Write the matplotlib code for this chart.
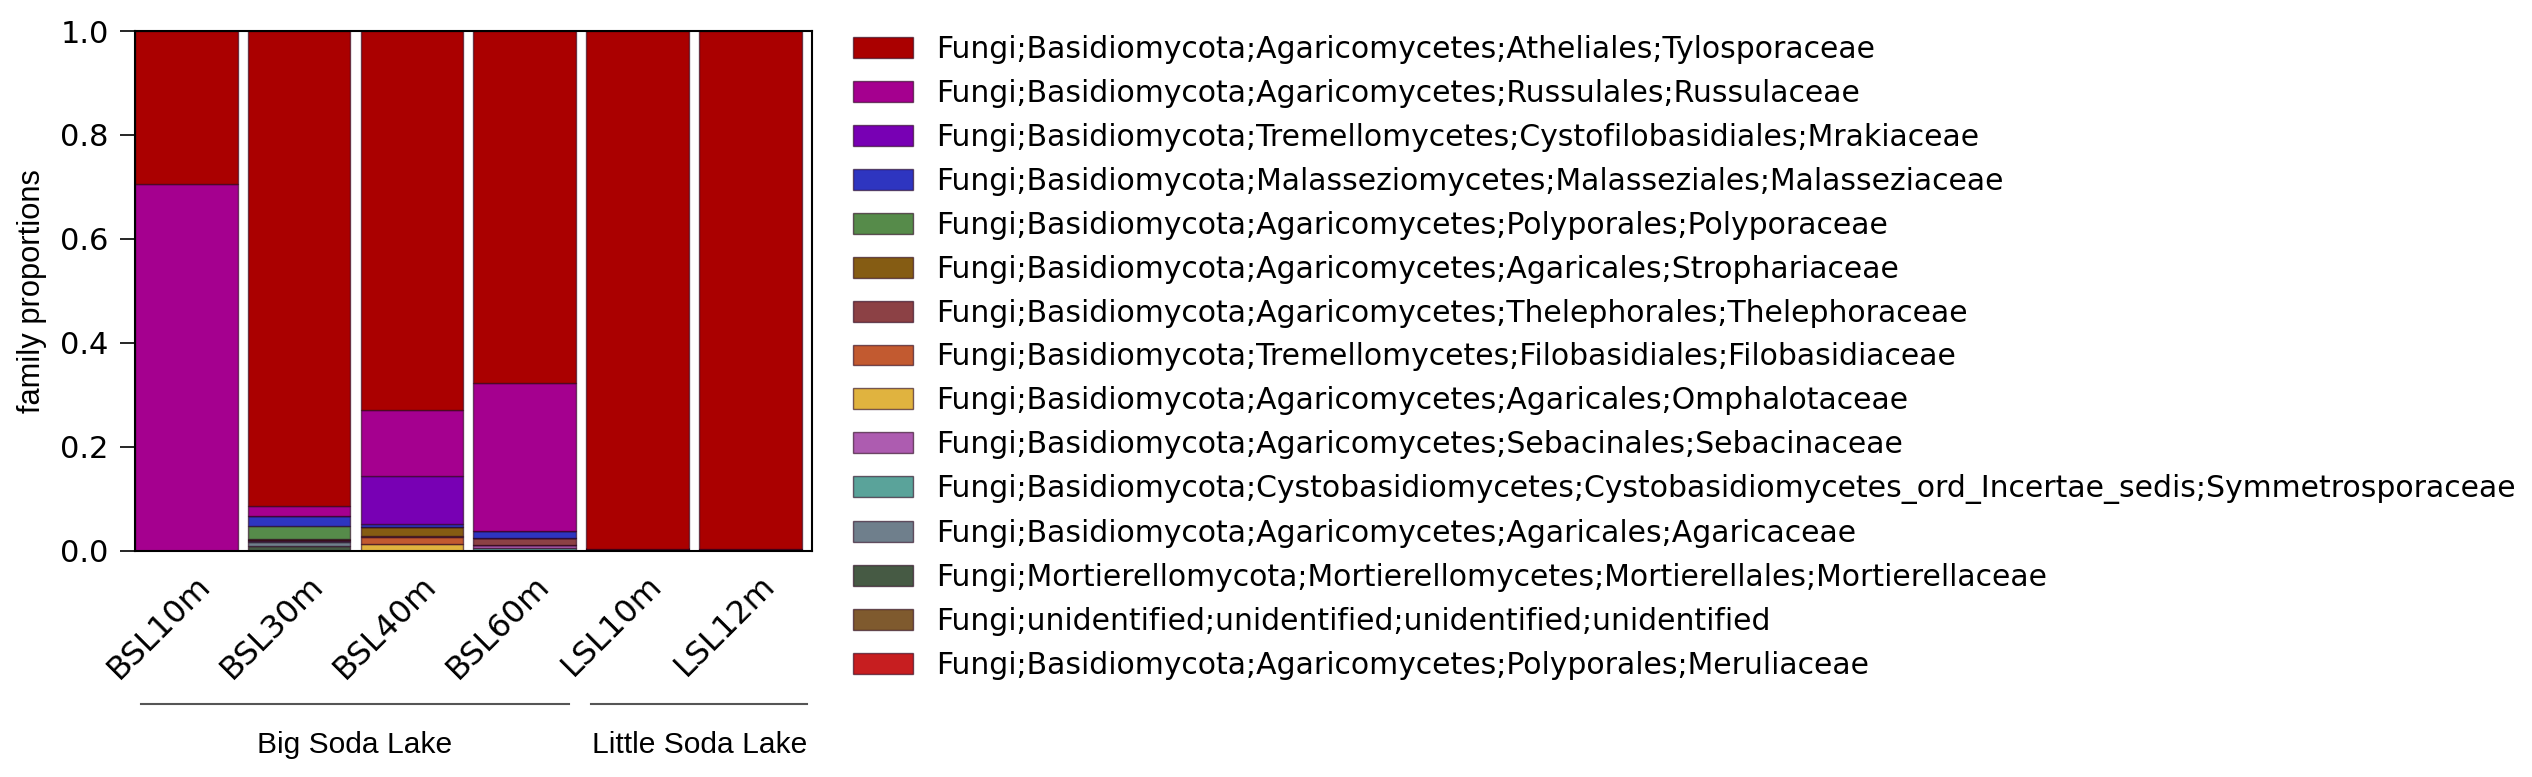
import matplotlib
matplotlib.use("Agg")
import matplotlib.pyplot as plt
import matplotlib.transforms as mtransforms
import numpy as np

samples = ["BSL10m", "BSL30m", "BSL40m", "BSL60m", "LSL10m", "LSL12m"]

# legend order (top of stack first)
families = [
    "Fungi;Basidiomycota;Agaricomycetes;Atheliales;Tylosporaceae",
    "Fungi;Basidiomycota;Agaricomycetes;Russulales;Russulaceae",
    "Fungi;Basidiomycota;Tremellomycetes;Cystofilobasidiales;Mrakiaceae",
    "Fungi;Basidiomycota;Malasseziomycetes;Malasseziales;Malasseziaceae",
    "Fungi;Basidiomycota;Agaricomycetes;Polyporales;Polyporaceae",
    "Fungi;Basidiomycota;Agaricomycetes;Agaricales;Strophariaceae",
    "Fungi;Basidiomycota;Agaricomycetes;Thelephorales;Thelephoraceae",
    "Fungi;Basidiomycota;Tremellomycetes;Filobasidiales;Filobasidiaceae",
    "Fungi;Basidiomycota;Agaricomycetes;Agaricales;Omphalotaceae",
    "Fungi;Basidiomycota;Agaricomycetes;Sebacinales;Sebacinaceae",
    "Fungi;Basidiomycota;Cystobasidiomycetes;Cystobasidiomycetes_ord_Incertae_sedis;Symmetrosporaceae",
    "Fungi;Basidiomycota;Agaricomycetes;Agaricales;Agaricaceae",
    "Fungi;Mortierellomycota;Mortierellomycetes;Mortierellales;Mortierellaceae",
    "Fungi;unidentified;unidentified;unidentified;unidentified",
    "Fungi;Basidiomycota;Agaricomycetes;Polyporales;Meruliaceae",
]

colors = ["#aa0000", "#a5008f", "#7800b4", "#2e35c0", "#568b4a",
          "#855c13", "#8c4145", "#c25a30", "#e0b33f", "#ad5cb0",
          "#5aa39a", "#6f7f8c", "#465a44", "#7f5a2e", "#c71e20"]

# proportions per sample, same order as families
tylosporaceae     = [0.295, 0.9135, 0.728, 0.677, 0.997, 0.997]
russulaceae       = [0.705, 0.019, 0.128, 0.284, 0.0, 0.0]
mrakiaceae        = [0.0, 0.0, 0.092, 0.0, 0.0, 0.002]
malasseziaceae    = [0.0, 0.020, 0.006, 0.015, 0.0, 0.0]
polyporaceae      = [0.0, 0.024, 0.0, 0.0, 0.0, 0.0]
strophariaceae    = [0.0, 0.002, 0.017, 0.0, 0.0, 0.0]
thelephoraceae    = [0.0, 0.0, 0.003, 0.012, 0.0, 0.0]
filobasidiaceae   = [0.0, 0.0, 0.013, 0.0, 0.0, 0.0]
omphalotaceae     = [0.0, 0.0, 0.013, 0.0, 0.0, 0.0]
sebacinaceae      = [0.0, 0.0015, 0.0, 0.006, 0.0, 0.0]
symmetrosporaceae = [0.0, 0.002, 0.0, 0.006, 0.0, 0.0]
agaricaceae       = [0.0, 0.008, 0.0, 0.0, 0.0, 0.0]
mortierellaceae   = [0.0, 0.010, 0.0, 0.0, 0.002, 0.0]
unidentified      = [0.0, 0.0, 0.0, 0.0, 0.001, 0.0]
meruliaceae       = [0.0, 0.0, 0.0, 0.0, 0.0, 0.001]

values = [tylosporaceae, russulaceae, mrakiaceae, malasseziaceae, polyporaceae,
          strophariaceae, thelephoraceae, filobasidiaceae, omphalotaceae,
          sebacinaceae, symmetrosporaceae, agaricaceae, mortierellaceae,
          unidentified, meruliaceae]

groups = [("Big Soda Lake", 0.05, 3.85), ("Little Soda Lake", 4.04, 5.96)]

fig = plt.figure(figsize=(25.32, 7.77), dpi=100)
ax = fig.add_axes([0.0533, 0.2909, 0.2674, 0.6692])

x = np.arange(len(samples))
edge = (0.15, 0.0, 0.1, 0.6)
bottom = np.zeros(len(samples))
bars = {}
# stack from the last family (bottom) to the first (top)
for name, col, vals in reversed(list(zip(families, colors, values))):
    bars[name] = ax.bar(x, vals, width=0.91, bottom=bottom, align="edge",
                        color=col, edgecolor=edge, linewidth=1.0)
    bottom += np.array(vals)

ax.set_xlim(0, len(samples))
ax.set_ylim(0, 1)
ax.set_yticks([0.0, 0.2, 0.4, 0.6, 0.8, 1.0])
ax.set_yticklabels(["0.0", "0.2", "0.4", "0.6", "0.8", "1.0"], fontsize=22)
ax.tick_params(axis="y", length=11, width=1.2, pad=8, direction="out",
               right=False)
ax.set_xticks(x + 0.73)
ax.set_xticklabels(samples, rotation=45, ha="right", fontsize=23)
ax.tick_params(axis="x", length=0, pad=13.5)
for s in ax.spines.values():
    s.set_linewidth(1.5)
    s.set_color("black")

fig.text(32 / 2532, 0.2909 + 0.6692 / 2, "family proportions", rotation=90,
         ha="center", va="center", family="Liberation Sans", fontsize=22.2)

trans = mtransforms.blended_transform_factory(ax.transData, ax.transAxes)
for label, x0, x1 in groups:
    ax.plot([x0, x1], [-0.294, -0.294], color="#555555", lw=1.5,
            transform=trans, clip_on=False)
    ax.text((x0 + x1) / 2, -0.373, label, transform=trans, ha="center",
            va="center", family="Liberation Sans", fontsize=21.6)

handles = [bars[f] for f in families]
fig.legend(handles, families, loc="upper left",
           bbox_to_anchor=(841 / 2532, 1 - 23 / 777),
           bbox_transform=fig.transFigure, borderaxespad=0,
           frameon=False, fontsize=21.5, labelspacing=0.5)

fig.savefig("out.png", dpi=100)
